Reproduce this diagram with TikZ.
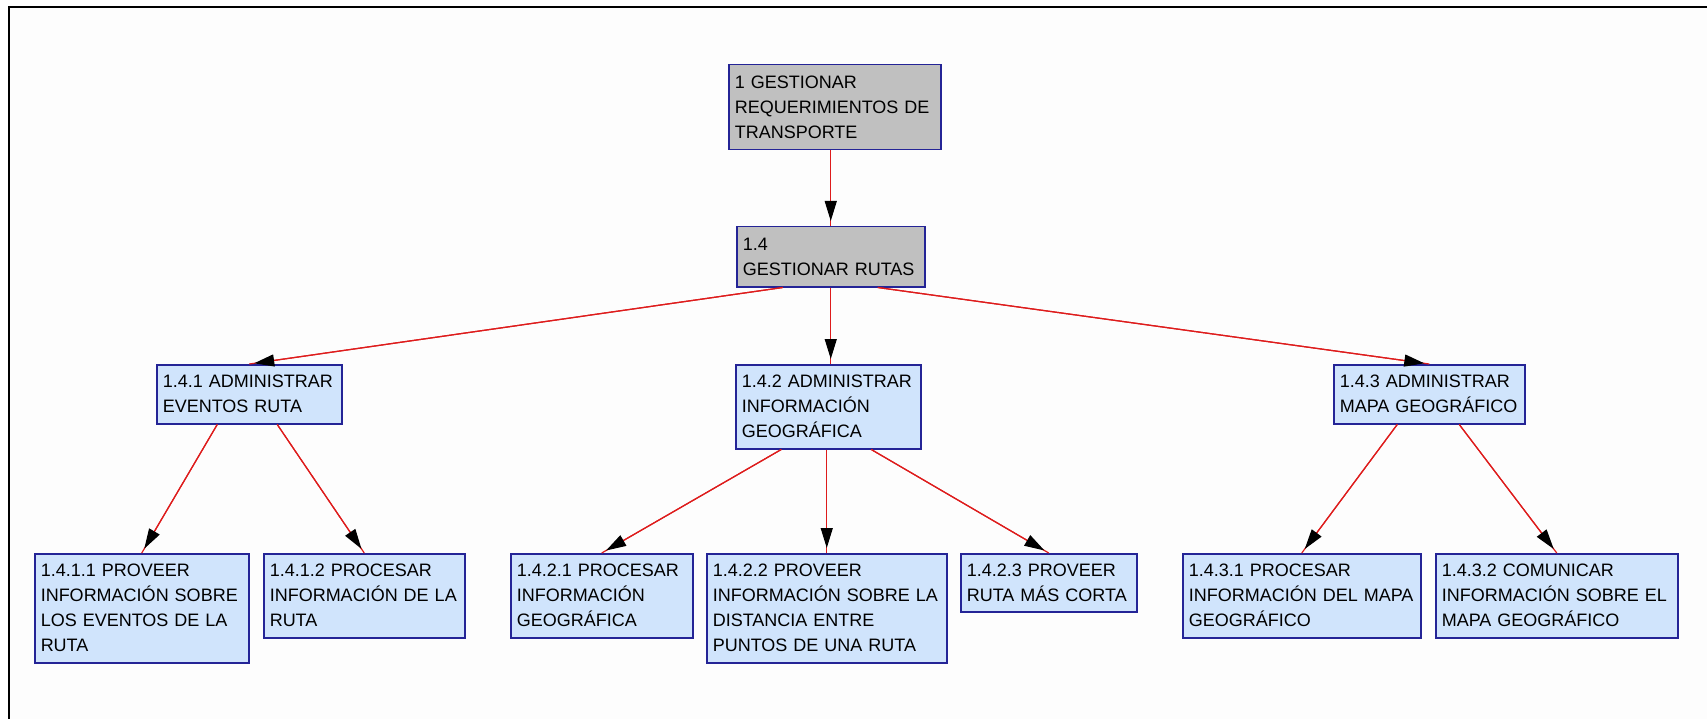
\documentclass[tikz,border=0pt]{standalone}
\usepackage{fontspec}
\setmainfont{Liberation Sans}
\usetikzlibrary{arrows.meta}
\definecolor{boxblue}{RGB}{36,36,150}
\definecolor{boxfill}{RGB}{208,228,252}
\definecolor{boxgray}{RGB}{192,192,192}
\definecolor{edgered}{RGB}{222,28,28}
\definecolor{paper}{RGB}{253,253,253}

\begin{document}
\begin{tikzpicture}[x=1pt,y=-1pt,
        task/.style={draw=boxblue,fill=boxfill,line width=1.5pt,anchor=north west,
            align=left,inner xsep=6pt,inner ysep=0pt,font=\fontsize{18}{25}\selectfont},
        root/.style={task,fill=boxgray},
        link/.style={draw=edgered,line width=1.2pt,
            postaction={draw,shorten >=5pt,-{Triangle[length=20pt,width=12pt,color=black]}}}]
        \useasboundingbox (0,0) rectangle (1707,719);
        \fill[white] (0,0) rectangle (1707,719);
        \fill[paper] (9,7) rectangle (1707,719);
        \draw[line width=2.5pt] (9,719) -- (9,7) -- (1707,7);

        % upper levels
        \node[root,text width=200pt,minimum height=85pt] at (728,64)  (g1)   {1 GESTIONAR\\REQUERIMIENTOS DE\\TRANSPORTE};
        \node[root,text width=176pt,minimum height=60pt] at (736,226) (g14)  {1.4\\GESTIONAR RUTAS};
        \node[task,text width=173pt,minimum height=59pt] at (156,364) (g141) {1.4.1 ADMINISTRAR\\EVENTOS RUTA};
        \node[task,text width=173pt,minimum height=84pt] at (735,364) (g142) {1.4.2 ADMINISTRAR\\INFORMACIÓN\\GEOGRÁFICA};
        \node[task,text width=179pt,minimum height=59pt] at (1333,364) (g143) {1.4.3 ADMINISTRAR\\MAPA GEOGRÁFICO};

        % leaves
        \node[task,text width=202pt,minimum height=109pt] at (34,553)   (g1411) {1.4.1.1 PROVEER\\INFORMACIÓN SOBRE\\LOS EVENTOS DE LA\\RUTA};
        \node[task,text width=189pt,minimum height=84pt]  at (263,553)  (g1412) {1.4.1.2 PROCESAR\\INFORMACIÓN DE LA\\RUTA};
        \node[task,text width=170pt,minimum height=84pt]  at (510,553)  (g1421) {1.4.2.1 PROCESAR\\INFORMACIÓN\\GEOGRÁFICA};
        \node[task,text width=228pt,minimum height=109pt] at (706,553)  (g1422) {1.4.2.2 PROVEER\\INFORMACIÓN SOBRE LA\\DISTANCIA ENTRE\\PUNTOS DE UNA RUTA};
        \node[task,text width=164pt,minimum height=58pt]  at (960,553)  (g1423) {1.4.2.3 PROVEER\\RUTA MÁS CORTA};
        \node[task,text width=226pt,minimum height=84pt]  at (1182,553) (g1431) {1.4.3.1 PROCESAR\\INFORMACIÓN DEL MAPA\\GEOGRÁFICO};
        \node[task,text width=230pt,minimum height=84pt]  at (1435,553) (g1432) {1.4.3.2 COMUNICAR\\INFORMACIÓN SOBRE EL\\MAPA GEOGRÁFICO};

        \draw[link] (g1.south -| g14.north) -- (g14.north);
        \draw[link] ([xshift=-48pt]g14.south) -- (g141.north);
        \draw[link] (g14.south) -- (g14.south |- g142.north);
        \draw[link] ([xshift=47pt]g14.south) -- (g143.north);
        \draw[link] ([xshift=-32pt]g141.south) -- (g1411.north);
        \draw[link] ([xshift=28pt]g141.south) -- (g1412.north);
        \draw[link] ([xshift=-47pt]g142.south) -- (g1421.north);
        \draw[link] (g1422.north |- g142.south) -- (g1422.north);
        \draw[link] ([xshift=43pt]g142.south) -- (g1423.north);
        \draw[link] ([xshift=-32pt]g143.south) -- (g1431.north);
        \draw[link] ([xshift=30pt]g143.south) -- (g1432.north);
\end{tikzpicture}
\end{document}
